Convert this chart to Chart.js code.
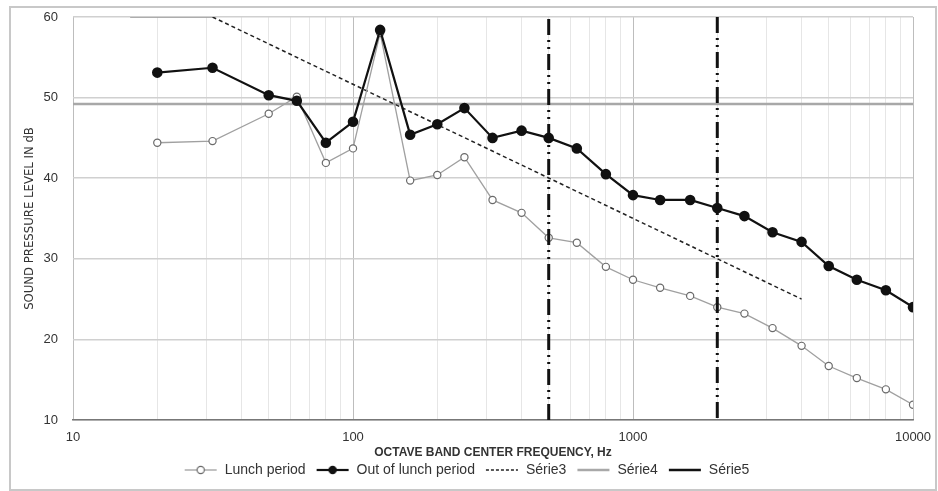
<!DOCTYPE html>
<html>
<head>
<meta charset="utf-8">
<script src="https://cdn.jsdelivr.net/npm/chart.js@4.4.1/dist/chart.umd.min.js"></script>
<style>
  html, body { margin: 0; padding: 0; background: #fff; }
  #wrap { width: 938px; height: 491px; position: relative; }
</style>
</head>
<body>
<div id="wrap"><canvas id="noise-chart"></canvas></div>
<script>
/* ---- data ---- */
const freqs = [20, 31.5, 50, 63, 80, 100, 125, 160, 200, 250, 315, 400, 500, 630,
               800, 1000, 1250, 1600, 2000, 2500, 3150, 4000, 5000, 6300, 8000, 10000];

const lunchPeriod = [44.4, 44.6, 48.0, 50.1, 41.9, 43.7, 58.0, 39.7, 40.4, 42.6, 37.3, 35.7, 32.6, 32.0,
                     29.0, 27.4, 26.4, 25.4, 24.0, 23.2, 21.4, 19.2, 16.7, 15.2, 13.8, 11.9];

const outOfLunch = [53.1, 53.7, 50.3, 49.6, 44.4, 47.0, 58.4, 45.4, 46.7, 48.7, 45.0, 45.9, 45.0, 43.7,
                    40.5, 37.9, 37.3, 37.3, 36.3, 35.3, 33.3, 32.1, 29.1, 27.4, 26.1, 24.0];

// Série3: limit curve
const serie3X = [16, 31.5, 4000];
const serie3Y = [60, 60, 25];

// Série4: horizontal level
const serie4X = [10, 10000];
const serie4Y = [49.2, 49.2];

// Série5: two vertical markers (null splits them)
const serie5X = [500, 500, 500, 2000, 2000];
const serie5Y = [10, 60, null, 60, 10];

const yTicks = [10, 20, 30, 40, 50, 60];

const pairs = (xs, ys) => xs.map((x, i) => ({ x: x, y: ys[i] }));
const isDecade = (v) => Math.abs(Math.log10(v) - Math.round(Math.log10(v))) < 1e-9;

/* ---- legend swatches: line with marker, like the spreadsheet legend ---- */
function swatch(color, width, dash, marker) {
    const cv = document.createElement("canvas");
    cv.width = 34; cv.height = 12;
    const c = cv.getContext("2d");
    c.strokeStyle = color;
    c.lineWidth = width;
    c.setLineDash(dash);
    c.beginPath(); c.moveTo(1, 6); c.lineTo(33, 6); c.stroke();
    if (marker) {
        c.setLineDash([]);
        c.beginPath(); c.arc(17, 6, 3.6, 0, Math.PI * 2);
        c.fillStyle = marker.fill; c.fill();
        c.lineWidth = 1.2; c.strokeStyle = marker.stroke; c.stroke();
    }
    return cv;
}
const legendIcons = [
    swatch("#a0a0a0", 1.3, [], { fill: "#fff", stroke: "#6a6a6a" }),
    swatch("#111", 2.2, [], { fill: "#111", stroke: "#111" }),
    swatch("#222", 1.5, [3, 2], null),
    swatch("#a8a8a8", 2.5, [], null),
    swatch("#111", 2.5, [], null)
];

/* ---- outer frame ---- */
const framePlugin = {
    id: "frame",
    beforeDraw(chart) {
        const c = chart.ctx;
        c.save();
        c.fillStyle = "#fff";
        c.fillRect(0, 0, chart.width, chart.height);
        c.strokeStyle = "#c8c8c8";
        c.lineWidth = 2;
        c.strokeRect(10, 7, chart.width - 12, chart.height - 8);
        c.restore();
    }
};

const ctx = document.getElementById("noise-chart").getContext("2d");

new Chart(ctx, {
    type: "line",
    data: {
        datasets: [
            {
                label: "Lunch period",
                data: pairs(freqs, lunchPeriod),
                order: 3,
                borderColor: "#a0a0a0",
                borderWidth: 1.3,
                pointBackgroundColor: "#fff",
                pointBorderColor: "#6a6a6a",
                pointBorderWidth: 1.2,
                pointRadius: 3.6,
                pointStyle: "circle",
                tension: 0
            },
            {
                label: "Out of lunch period",
                data: pairs(freqs, outOfLunch),
                order: 2,
                borderColor: "#111",
                borderWidth: 2.2,
                pointBackgroundColor: "#111",
                pointBorderColor: "#111",
                pointRadius: 4.2,
                pointStyle: "circle",
                tension: 0
            },
            {
                label: "Série3",
                data: pairs(serie3X, serie3Y),
                order: 4,
                borderColor: "#222",
                borderWidth: 1.5,
                borderDash: [4, 3],
                segment: {
                    borderDash: (s) => s.p0DataIndex === 0 ? [] : [4, 3],
                    borderColor: (s) => s.p0DataIndex === 0 ? "#9a9a9a" : "#222"
                },
                pointRadius: 0,
                tension: 0
            },
            {
                label: "Série4",
                data: pairs(serie4X, serie4Y),
                order: 5,
                borderColor: "#a8a8a8",
                borderWidth: 2.5,
                pointRadius: 0,
                tension: 0
            },
            {
                label: "Série5",
                data: pairs(serie5X, serie5Y),
                order: 1,
                borderColor: "#111",
                borderWidth: 3,
                borderDash: [16, 5, 2, 5, 2, 5],
                pointRadius: 0,
                spanGaps: false,
                tension: 0
            }
        ]
    },
    options: {
        responsive: true,
        maintainAspectRatio: false,
        animation: false,
        layout: { padding: { left: 20, right: 25, top: 17, bottom: 4 } },
        plugins: {
            legend: {
                position: "bottom",
                labels: {
                    usePointStyle: true,
                    pointStyleWidth: 34,
                    boxHeight: 12,
                    padding: 10,
                    color: "#333",
                    font: { family: "Liberation Sans", size: 14 },
                    sort: (a, b) => a.datasetIndex - b.datasetIndex,
                    generateLabels: (chart) => {
                        const items = Chart.defaults.plugins.legend.labels.generateLabels(chart);
                        items.forEach((it) => { it.pointStyle = legendIcons[it.datasetIndex]; });
                        return items;
                    }
                }
            },
            tooltip: { enabled: false }
        },
        scales: {
            x: {
                type: "logarithmic",
                min: 10,
                max: 10000,
                afterBuildTicks: (scale) => {
                    const t = [];
                    for (let d = 10; d < 10000; d *= 10) {
                        for (let m = 1; m < 10; m++) t.push({ value: d * m });
                    }
                    t.push({ value: 10000 });
                    scale.ticks = t;
                },
                afterFit: (scale) => {
                    scale.height = 33;
                    scale.paddingLeft = 0;
                    scale.paddingRight = 0;
                },
                ticks: {
                    autoSkip: false,
                    maxRotation: 0,
                    padding: 10,
                    color: "#333",
                    font: { family: "Liberation Sans", size: 13 },
                    callback: (v) => isDecade(v) ? String(v) : ""
                },
                grid: {
                    color: (c) => isDecade(c.tick.value) ? "#bdbdbd" : "#e6e6e6",
                    drawTicks: false
                },
                border: { color: "#777", width: 1.5 },
                title: {
                    display: true,
                    text: "OCTAVE BAND CENTER FREQUENCY, Hz",
                    color: "#333",
                    font: { family: "Liberation Sans", size: 12, weight: "bold" },
                    padding: { top: 2, bottom: -7 }
                }
            },
            y: {
                min: 10,
                max: 60,
                afterBuildTicks: (scale) => { scale.ticks = yTicks.map(v => ({ value: v })); },
                afterFit: (scale) => {
                    scale.width = 53;
                    scale.paddingTop = 0;
                    scale.paddingBottom = 0;
                },
                ticks: {
                    color: "#333",
                    padding: 15,
                    font: { family: "Liberation Sans", size: 13 }
                },
                grid: { color: "#d0d0d0", lineWidth: 1.5, drawTicks: false },
                border: { display: false },
                title: {
                    display: true,
                    text: "SOUND PRESSURE LEVEL IN dB",
                    color: "#333",
                    font: { family: "'DejaVu Sans Condensed', 'Liberation Sans'", size: 13 },
                    padding: { top: 2, bottom: 2 }
                }
            }
        }
    },
    plugins: [framePlugin]
});
</script>
</body>
</html>
